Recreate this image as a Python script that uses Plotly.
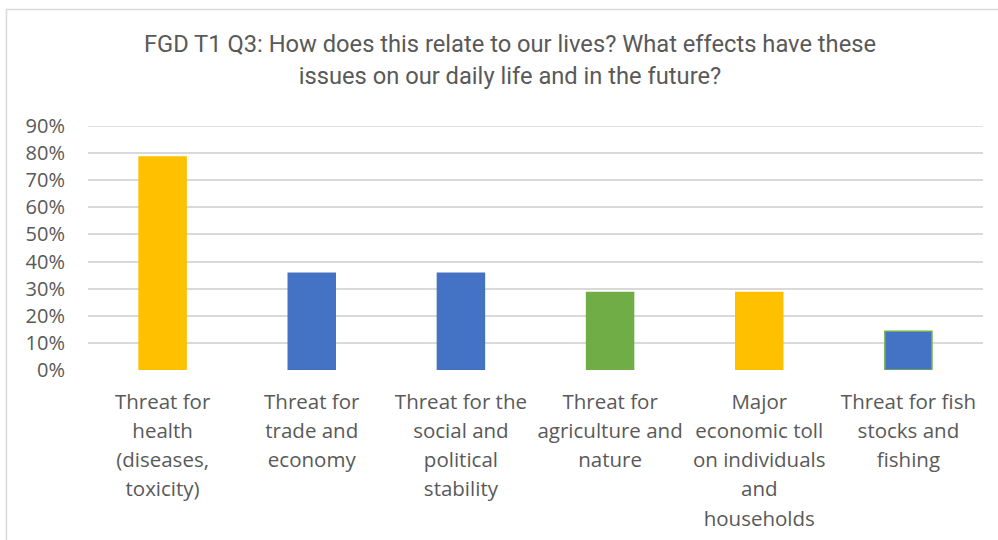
import plotly.graph_objects as go

# Survey answers (share of focus-group respondents, n = 14)
categories = [
    "Threat for health (diseases, toxicity)",
    "Threat for trade and economy",
    "Threat for the social and political stability",
    "Threat for agriculture and nature",
    "Major economic toll on individuals and households",
    "Threat for fish stocks and fishing",
]
tick_lines = [
    ["Threat for", "health", "(diseases,", "toxicity)"],
    ["Threat for", "trade and", "economy"],
    ["Threat for the", "social and", "political", "stability"],
    ["Threat for", "agriculture and", "nature"],
    ["Major", "economic toll", "on individuals", "and", "households"],
    ["Threat for fish", "stocks and", "fishing"],
]
shares = [0.786, 0.357, 0.357, 0.286, 0.286, 0.143]
fill_colors = ["#FFC000", "#4472C4", "#4472C4", "#70AD47", "#FFC000", "#4472C4"]
edge_colors = ["#FFC000", "#4472C4", "#4472C4", "#70AD47", "#FFC000", "#70AD47"]

y_ticks = [i / 10 for i in range(10)]
y_labels = [f"{i * 10}%" for i in range(10)]

GREY_TEXT = "#595959"
GRID = "#D9D9D9"

# labels: larger base size gives wider line spacing, spans keep the glyphs smaller
tick_text = [
    "<br>".join(f'<span style="font-size:20.5px">{ln}</span>' for ln in lines)
    for lines in tick_lines
]

fig = go.Figure(
    go.Bar(
        x=list(range(len(categories))),
        y=shares,
        width=0.315,
        marker=dict(color=fill_colors, line=dict(color=edge_colors, width=1.5)),
        hovertext=categories,
        hoverinfo="text+y",
    )
)

title_text = (
    '<span style="font-size:23.7px">FGD T1 Q3: How does this relate to our lives? '
    "What effects have these</span><br>"
    '<span style="font-size:23.7px">issues on our daily life and in the future?</span>'
)

fig.update_layout(
    width=998,
    height=540,
    margin=dict(l=88, r=15, t=126, b=170, autoexpand=False),
    paper_bgcolor="white",
    plot_bgcolor="white",
    showlegend=False,
    title=dict(
        text=title_text,
        x=0.511,
        xref="container",
        xanchor="center",
        y=1 - 52 / 540,
        yref="container",
        yanchor="top",
        font=dict(family="Roboto", size=24.6, color=GREY_TEXT),
    ),
    xaxis=dict(
        automargin=False,
        tickmode="array",
        tickvals=list(range(len(categories))),
        ticktext=tick_text,
        range=[-0.5, len(categories) - 0.5],
        showgrid=False,
        zeroline=False,
        showline=False,
        ticks="",
        ticklabelstandoff=15,
        tickfont=dict(family="Open Sans", size=22.5, color=GREY_TEXT),
        tickangle=0,
    ),
    yaxis=dict(
        automargin=False,
        range=[0, 0.9],
        tickmode="array",
        tickvals=y_ticks,
        ticktext=y_labels,
        showgrid=True,
        gridcolor=GRID,
        gridwidth=1.5,
        zeroline=False,
        showline=False,
        ticks="",
        ticklabelstandoff=22,
        tickfont=dict(family="Open Sans", size=20, color=GREY_TEXT),
    ),
    shapes=[
        # outer frame of the chart area (left and top edges)
        dict(
            type="path",
            xref="paper",
            yref="paper",
            path="M -0.0911,-0.75 L -0.0911,1.4775 L 1.2,1.4775",
            line=dict(color=GRID, width=1.5),
            layer="below",
        ),
        # top grid line at 90%
        dict(
            type="line",
            xref="paper",
            yref="y",
            x0=0,
            x1=1,
            y0=0.9,
            y1=0.9,
            line=dict(color=GRID, width=1.5),
            layer="below",
        ),
    ],
)

fig.write_html("out.html")
